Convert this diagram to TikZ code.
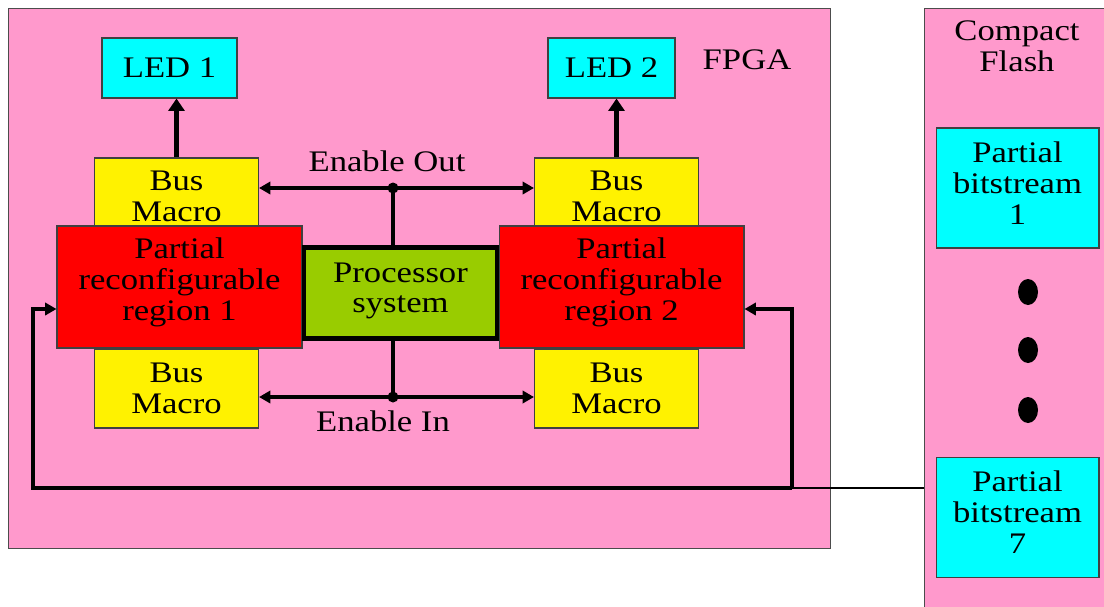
\documentclass[tikz,border=0pt]{standalone}
\usepackage{fontspec}
\setmainfont{Liberation Serif}[FakeStretch=1.16]
\usetikzlibrary{arrows.meta}
\definecolor{fpgapink}{HTML}{FF99CC}
\definecolor{ledcyan}{HTML}{00FFFF}
\definecolor{procgreen}{HTML}{99CC00}

\begin{document}
\begin{tikzpicture}[x=0.02cm,y=-0.02cm,
  every node/.style={font=\fontsize{17}{17.6}\selectfont,align=center,inner sep=0pt},
  blk/.style={draw=black!75,line width=0.6pt,minimum width=#1},
  led/.style={blk=#1,fill=ledcyan,minimum height=1.2cm},
  busmac/.style={blk=3.28cm,fill=yellow,minimum height=#1},
  prr/.style={blk=4.9cm,fill=red,minimum height=2.44cm,text depth=9.4pt},
  bitstr/.style={blk=3.26cm,fill=ledcyan,minimum height=2.4cm,text depth=5.7pt},
  sig/.style={line width=2.3pt},
  >={Triangle[length=6.5pt,width=7pt]}]

  \clip (0,0) rectangle (1104,606);
  \draw [fill=fpgapink,draw=black!70] (8,8) rectangle (830,548);
  \node [draw=black!70,fill=fpgapink,minimum width=3.8cm,minimum height=12.2cm,anchor=north west] (cf) at (924,8) {};
  \node at (1017,46) {Compact\\Flash};
  \node at (747,60) {FPGA};

  \node [led=2.7cm] (led1) at (169.5,68) {LED 1};
  \node [led=2.54cm] (led2) at (611.5,68) {LED 2};

  \node [busmac=1.52cm] (bm1) at (176.5,196) {Bus\\Macro};
  \node [busmac=1.52cm] (bm2) at (616.5,196) {Bus\\Macro};
  \node [busmac=1.58cm] (bm3) at (176.5,388.5) {Bus\\Macro};
  \node [busmac=1.58cm] (bm4) at (616.5,388.5) {Bus\\Macro};
  \node [prr] (prr1) at (179.5,287) {Partial\\reconfigurable\\region 1};
  \node [prr] (prr2) at (621.5,287) {Partial\\reconfigurable\\region 2};
  \node [draw,line width=2.3pt,fill=procgreen,minimum width=3.86cm,minimum height=1.82cm,text depth=6pt] (proc) at (400.5,293) {Processor\\system};

  \draw [line width=2.8pt,-{Triangle[length=7pt,width=9pt]}] (bm1.north) -- (bm1.north |- led1.south);
  \draw [line width=2.8pt,-{Triangle[length=7pt,width=9pt]}] (bm2.north) -- (bm2.north |- led2.south);

  \coordinate (eout) at (393,188);
  \coordinate (ein) at (393,397);
  \draw [sig,->] (eout) -- (eout -| bm1.east);
  \draw [sig,->] (eout) -- (eout -| bm2.west);
  \draw [sig] (eout) -- (eout |- proc.north);
  \fill (eout) circle (0.11cm);
  \node at (387,161) {Enable Out};
  \draw [sig,->] (ein) -- (ein -| bm3.east);
  \draw [sig,->] (ein) -- (ein -| bm4.west);
  \draw [sig] (ein) -- (ein |- proc.south);
  \fill (ein) circle (0.11cm);
  \node at (383,421) {Enable In};

  \node [bitstr] (pb1) at (1017.5,188) {Partial\\bitstream\\1};
  \node [bitstr] (pb7) at (1017.5,517.5) {Partial\\bitstream\\7};
  \foreach \y in {292,350,410}
    \fill (1028,\y) ellipse [x radius=0.2cm,y radius=0.26cm];

  \coordinate (fb) at (792,488);
  \coordinate (fbl) at (33,488);
  \draw [line width=1.5pt] (cf.west |- fb) -- (fb);
  \draw [sig,->] (fb) -- (fbl) |- ([yshift=-0.44cm]prr1.west);
  \draw [sig,->] (fb) |- ([yshift=-0.44cm]prr2.east);

\end{tikzpicture}
\end{document}
